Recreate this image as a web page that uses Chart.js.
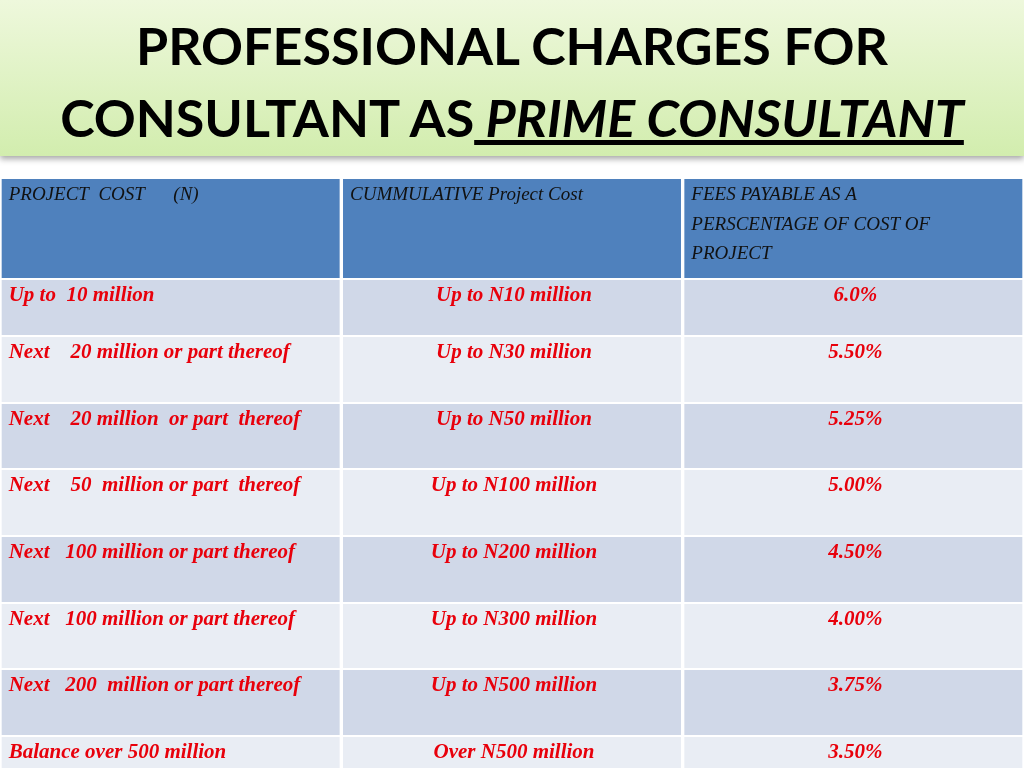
<!DOCTYPE html>
<html>
<head>
<meta charset="utf-8">
<script src="https://cdn.jsdelivr.net/npm/chart.js@4"></script>
<style>
  body { margin: 0; width: 1024px; height: 768px; overflow: hidden; background: #fff; font-family: Lato, sans-serif; }
  #title {
    position: absolute; left: 0; top: 0; width: 1024px; height: 156px;
    background: linear-gradient(#eef8dc, #d2edae);
    box-shadow: 0 3px 6px rgba(0,0,0,0.35);
    text-align: center; font-weight: bold; font-size: 52px; line-height: 72px; color: #000;
    padding-top: 9px; box-sizing: border-box; white-space: nowrap;
  }
  #title span { font-style: italic; text-decoration: underline; }
  #wrap { position: absolute; left: 0; top: 178px; width: 1024px; height: 590px; }
</style>
</head>
<body>
<div id="title">PROFESSIONAL CHARGES FOR<br>CONSULTANT AS<span> PRIME CONSULTANT</span></div>
<div id="wrap"><canvas id="tableChart" width="1024" height="590"></canvas></div>
<script>
// Table content
const columns = ['PROJECT  COST      (N)', 'CUMMULATIVE Project Cost', 'FEES PAYABLE AS A|PERSCENTAGE OF COST OF|PROJECT'];
const projectCost = [
    'Up to  10 million',
    'Next    20 million or part thereof',
    'Next    20 million  or part  thereof',
    'Next    50  million or part  thereof',
    'Next   100 million or part thereof',
    'Next   100 million or part thereof',
    'Next   200  million or part thereof',
    'Balance over 500 million'
];
const cumulativeCost = [
    'Up to N10 million', 'Up to N30 million', 'Up to N50 million', 'Up to N100 million',
    'Up to N200 million', 'Up to N300 million', 'Up to N500 million', 'Over N500 million'
];
const feePercent = ['6.0%', '5.50%', '5.25%', '5.00%', '4.50%', '4.00%', '3.75%', '3.50%'];

// row edges in table pixels (layout, not data)
const rowEdges = [0, 101, 158, 225, 291, 358, 425, 491, 558, 625];

const datasets = rowEdges.slice(0, -1).map((top, i) => {
    const color = i === 0 ? '#4f81bd' : (i % 2 === 1 ? '#d0d8e8' : '#e9edf4');
    return {
        data: [0, 1, 2].map(() => [top, rowEdges[i + 1]]),
        backgroundColor: color,
        borderColor: '#ffffff',
        borderWidth: 1,
        borderSkipped: false,
        categoryPercentage: 1,
        barPercentage: 0.996,
        grouped: false
    };
});

const cellText = {
    id: 'cellText',
    afterDatasetsDraw(chart) {
        const ctx = chart.ctx;
        ctx.save();
        chart.data.datasets.forEach((ds, r) => {
            const bars = chart.getDatasetMeta(r).data;
            bars.forEach((bar, c) => {
                const left = bar.x - bar.width / 2;
                const top = Math.min(bar.y, bar.base);
                ctx.textBaseline = 'middle';
                if (r === 0) {
                    ctx.font = 'italic 19px "Liberation Serif", serif';
                    ctx.fillStyle = '#111';
                    ctx.textAlign = 'left';
                    const lines = columns[c].split('|');
                    lines.forEach((l, k) => ctx.fillText(l, left + 8, top + 17 + k * 29.5));
                } else {
                    ctx.font = 'italic bold 21px "Liberation Serif", serif';
                    ctx.fillStyle = '#e8000b';
                    const i = r - 1;
                    if (c === 0) {
                        ctx.textAlign = 'left';
                        ctx.fillText(projectCost[i], left + 8, top + 17);
                    } else {
                        ctx.textAlign = 'center';
                        ctx.fillText(c === 1 ? cumulativeCost[i] : feePercent[i], bar.x + 2, top + 17);
                    }
                }
            });
        });
        ctx.restore();
    }
};

new Chart(document.getElementById('tableChart'), {
    type: 'bar',
    data: { labels: ['cost', 'cumulative', 'fee'], datasets },
    options: {
        responsive: false,
        animation: false,
        layout: { padding: 0 },
        plugins: { legend: { display: false }, tooltip: { enabled: false } },
        scales: {
            x: { display: false },
            y: { display: false, min: 0, max: 590, reverse: true }
        }
    },
    plugins: [cellText]
});
</script>
</body>
</html>
